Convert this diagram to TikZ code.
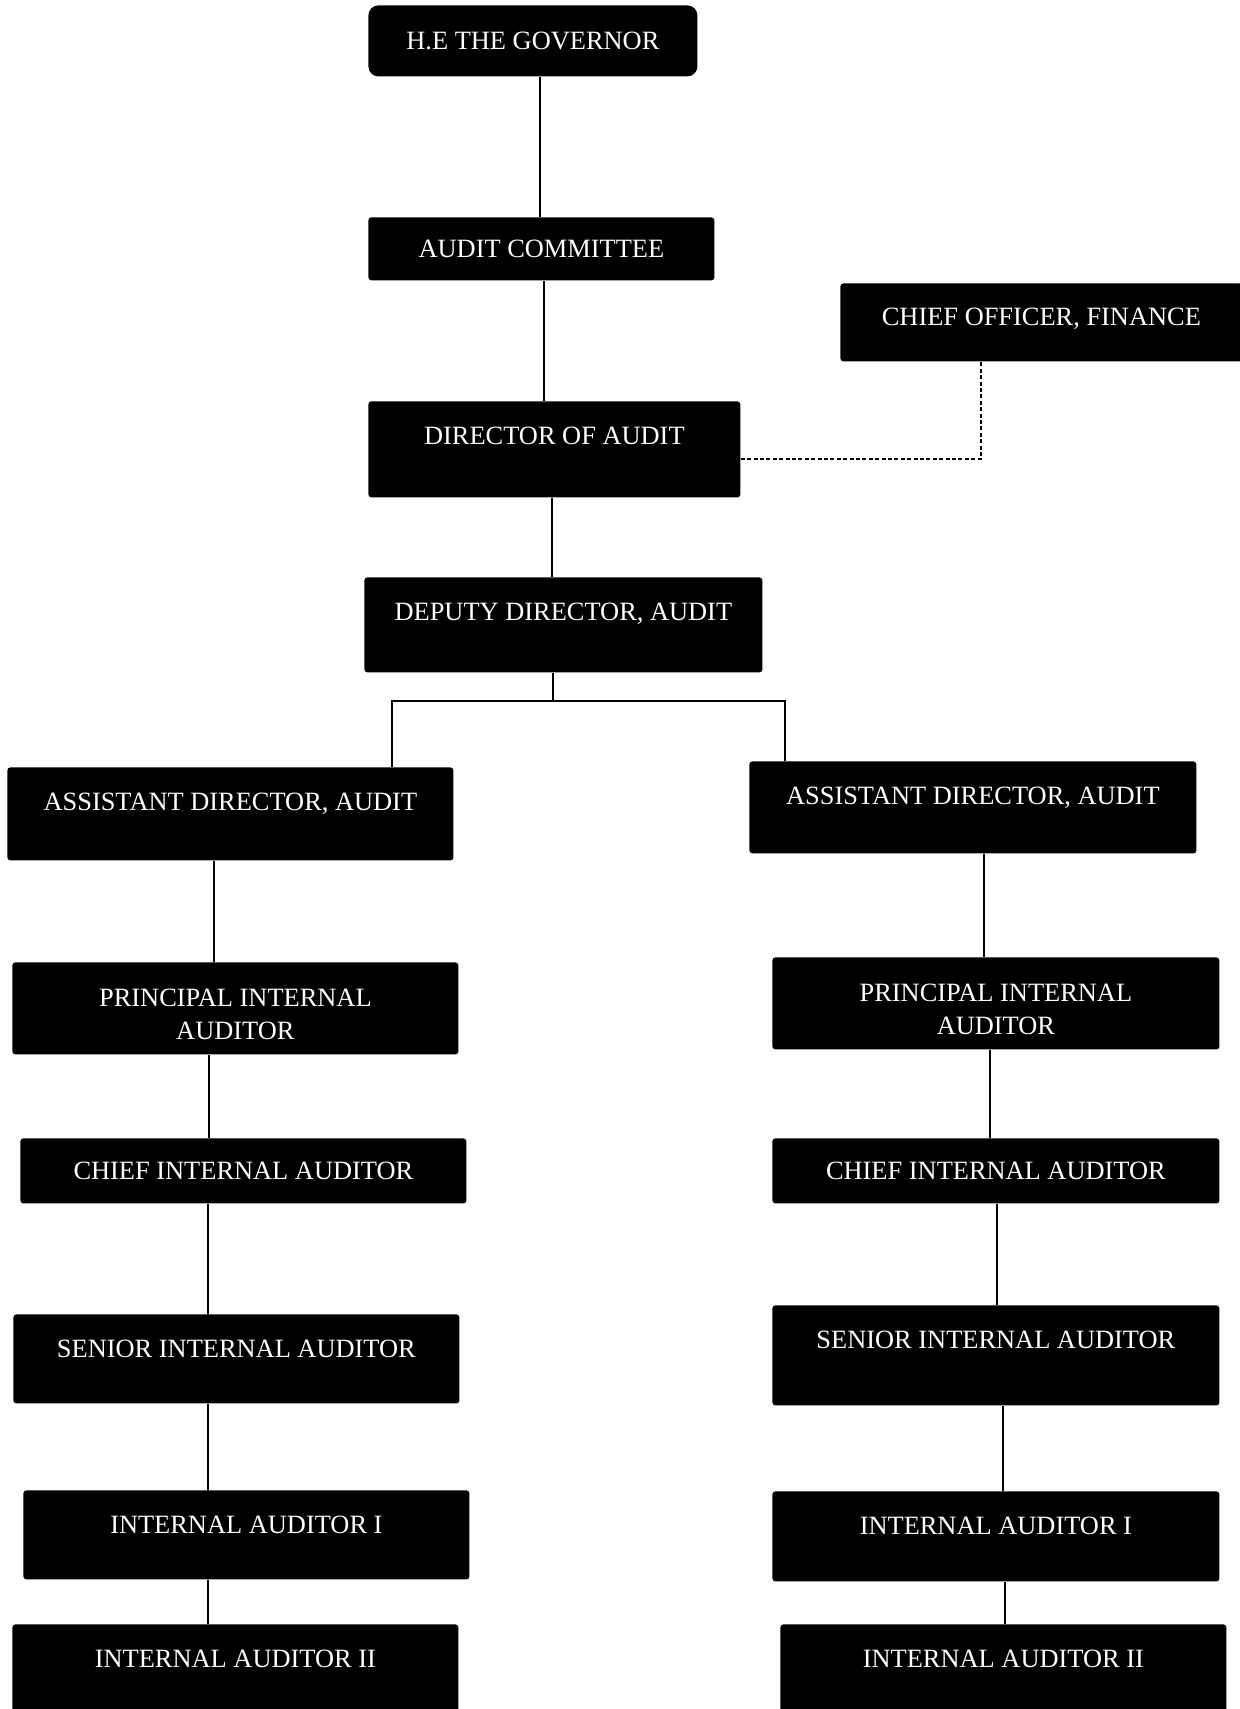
\documentclass[tikz,border=0pt]{standalone}
\usepackage{fontspec}
\newfontfamily\postfont{Liberation Serif}
\begin{document}
\begin{tikzpicture}[x=0.5pt,y=-0.5pt,
 post/.style={fill=black,text=white,inner sep=0pt,anchor=north west,rounded corners=1.5pt,
  align=center,font={\postfont\fontsize{13.2pt}{16.5pt}\selectfont},text height=21.5pt},
 mid/.style={text height=9pt,text depth=0pt},
 link/.style={line width=0.6pt},
 dotlink/.style={link,dash pattern=on 2pt off 1.2pt}]
 \useasboundingbox (0,0) rectangle (1240,1709);
 \node [post,mid,minimum width=164.5pt,minimum height=35.5pt,rounded corners=5pt] (gov) at (368,5) {H.E THE GOVERNOR};
 \node [post,mid,minimum width=173pt,minimum height=31.5pt] (comm) at (368,217) {AUDIT COMMITTEE};
 \node [post,minimum width=201pt,text height=21pt,text depth=18pt] (cfo) at (840,283) {CHIEF OFFICER, FINANCE};
 \node [post,minimum width=186pt,text depth=26.5pt] (dir) at (368,401) {DIRECTOR OF AUDIT};
 \node [post,minimum width=199pt,text depth=26pt] (dep) at (364,577) {DEPUTY DIRECTOR, AUDIT};
 \node [post,minimum width=223pt,text depth=25pt] (adL) at (7,767) {ASSISTANT DIRECTOR, AUDIT};
 \node [post,minimum width=223.5pt,text depth=24.5pt] (adR) at (749,761) {ASSISTANT DIRECTOR, AUDIT};
 \node [post,minimum width=223pt,text height=38.5pt,text depth=7.5pt] (piaL) at (12,962) {PRINCIPAL INTERNAL\\AUDITOR};
 \node [post,minimum width=223.5pt,text height=38.5pt,text depth=7.5pt] (piaR) at (772,957) {PRINCIPAL INTERNAL\\AUDITOR};
 \node [post,mid,minimum width=223pt,minimum height=32.5pt] (ciaL) at (20,1138) {CHIEF INTERNAL AUDITOR};
 \node [post,mid,minimum width=223.5pt,minimum height=32.5pt] (ciaR) at (772,1138) {CHIEF INTERNAL AUDITOR};
 \node [post,minimum width=223pt,text depth=23pt] (siaL) at (13,1314) {SENIOR INTERNAL AUDITOR};
 \node [post,minimum width=223.5pt,text depth=28.5pt] (siaR) at (772,1305) {SENIOR INTERNAL AUDITOR};
 \node [post,minimum width=223pt,text depth=23pt] (iaiL) at (23,1490) {INTERNAL AUDITOR I};
 \node [post,minimum width=223.5pt,text depth=23.5pt] (iaiR) at (772,1491) {INTERNAL AUDITOR I};
 \node [post,minimum width=223pt,text depth=23.5pt] (iaiiL) at (12,1624) {INTERNAL AUDITOR II};
 \node [post,minimum width=223pt,text depth=23.5pt] (iaiiR) at (780,1624) {INTERNAL AUDITOR II};
 \coordinate (fork) at (553,701);
 \coordinate (busL) at (392,701);
 \coordinate (busR) at (785,701);
 \foreach \a/\b/\x in {gov/comm/540,comm/dir/544,dir/dep/552,adL/piaL/214,piaL/ciaL/209,ciaL/siaL/208,siaL/iaiL/208,iaiL/iaiiL/208,
  adR/piaR/984,piaR/ciaR/990,ciaR/siaR/997,siaR/iaiR/1003,iaiR/iaiiR/1005}
  \draw [link] (\a.south -| \x,0) -- (\b.north -| \x,0);
 \draw [link] (dep.south -| fork) -- (fork);
 \draw [link] (adL.north -| busL) -- (busL) -- (busR) -- (adR.north -| busR);
 \draw [dotlink] (dir.east |- 0,459) -| (cfo.south -| 981,0);
\end{tikzpicture}
\end{document}
